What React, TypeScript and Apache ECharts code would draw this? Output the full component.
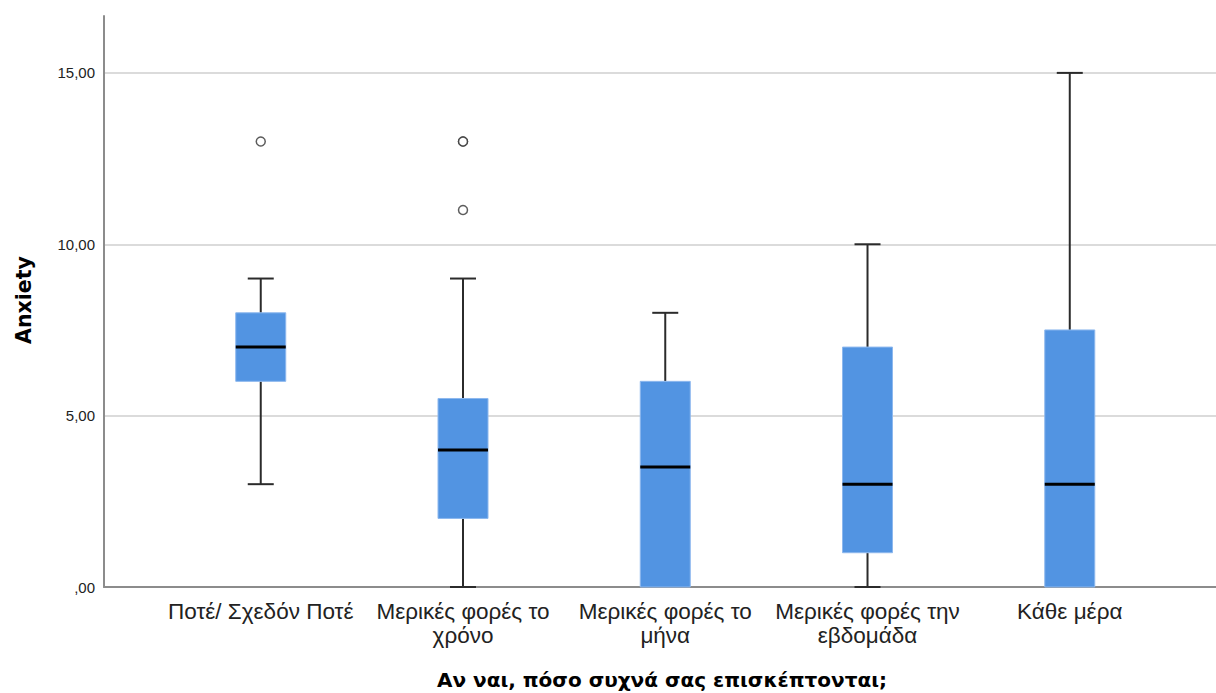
import React, { useEffect, useRef } from "react";
import * as echarts from "echarts";

const categories = [
  "Ποτέ/ Σχεδόν Ποτέ",
  "Μερικές φορές το\nχρόνο",
  "Μερικές φορές το\nμήνα",
  "Μερικές φορές την\nεβδομάδα",
  "Κάθε μέρα",
];
// [min, Q1, median, Q3, max]
const boxValues = [
  [3, 6, 7, 8, 9],
  [0, 2, 4, 5.5, 9],
  [0, 0, 3.5, 6, 8],
  [0, 1, 3, 7, 10],
  [0, 0, 3, 7.5, 15],
];
// [category index, value]
const outliers = [
  [0, 13],
  [1, 13],
  [1, 13],
  [1, 11],
];
const yTicks = [0, 5, 10, 15];
const yAxisTitle = "Anxiety";
const xAxisTitle = "Αν ναι, πόσο συχνά σας επισκέπτονται;";

const fmt = (v: number) => (v === 0 ? ",00" : v.toFixed(2).replace(".", ","));

export default function App() {
  const ref = useRef<HTMLDivElement>(null);
  useEffect(() => {
    if (!ref.current) return;
    const chart = echarts.init(ref.current, null, { renderer: "svg" });
    const labelValues = categories.map((_, i) => i);
    const boxData = boxValues.map((b, i) => [i, ...b]);
    const option: any = {
      animation: false,
      grid: { left: 104, right: 0, top: 16, bottom: 106, containLabel: false },
      xAxis: {
        type: "value",
        min: -0.775,
        max: 4.723,
        splitLine: { show: false },
        axisLine: { show: true, onZero: false, lineStyle: { color: "#8c8c8c", width: 2 } },
        axisTick: { show: false },
        axisLabel: {
          customValues: labelValues,
          margin: 12,
          fontFamily: "Liberation Sans",
          fontSize: 22.5,
          color: "#222",
          lineHeight: 24,
          align: "center",
          formatter: (v: number) => categories[Math.round(v)] ?? "",
        },
      },
      yAxis: {
        type: "value",
        min: 0,
        max: 16.66,
        interval: 5,
        axisLine: { show: true, onZero: false, lineStyle: { color: "#8c8c8c", width: 2 } },
        axisTick: { show: false },
        splitLine: {
          show: true,
          showMaxLine: false,
          showMinLine: false,
          lineStyle: { color: "#cfcfcf", width: 1.5 },
        },
        axisLabel: {
          margin: 9,
          fontFamily: "Liberation Sans",
          fontSize: 15,
          color: "#222",
          showMaxLabel: false,
          formatter: (v: number) => (yTicks.includes(v) ? fmt(v) : ""),
        },
      },
      graphic: [
        {
          type: "text",
          x: 24,
          y: 300,
          rotation: Math.PI / 2,
          style: {
            text: yAxisTitle,
            fontFamily: "DejaVu Sans",
            fontWeight: "bold",
            fontSize: 20.5,
            fill: "#000",
            textAlign: "center",
            textVerticalAlign: "middle",
          },
        },
        {
          type: "text",
          x: 662,
          y: 680,
          style: {
            text: xAxisTitle,
            fontFamily: "DejaVu Sans",
            fontWeight: "bold",
            fontSize: 20,
            fill: "#000",
            textAlign: "center",
            textVerticalAlign: "middle",
          },
        },
      ],
      series: [
        {
          type: "custom",
          data: boxData,
          encode: { x: 0, y: [1, 2, 3, 4, 5] },
          renderItem: (params: any, api: any) => {
            const x = api.value(0);
            const mn = api.value(1);
            const q1 = api.value(2);
            const md = api.value(3);
            const q3 = api.value(4);
            const mx = api.value(5);
            const pMin = api.coord([x, mn]);
            const pQ1 = api.coord([x, q1]);
            const pMd = api.coord([x, md]);
            const pQ3 = api.coord([x, q3]);
            const pMax = api.coord([x, mx]);
            const cx = pMd[0];
            const bw = 50;
            const cw = 26;
            const whisker = { stroke: "#2b2b2b", lineWidth: 2 };
            const children: any[] = [];
            if (mx > q3) {
              children.push({ type: "line", shape: { x1: cx, y1: pQ3[1], x2: cx, y2: pMax[1] }, style: whisker });
              children.push({ type: "line", shape: { x1: cx - cw / 2, y1: pMax[1], x2: cx + cw / 2, y2: pMax[1] }, style: whisker });
            }
            if (mn < q1) {
              children.push({ type: "line", shape: { x1: cx, y1: pQ1[1], x2: cx, y2: pMin[1] }, style: whisker });
              children.push({ type: "line", shape: { x1: cx - cw / 2, y1: pMin[1], x2: cx + cw / 2, y2: pMin[1] }, style: whisker });
            }
            children.push({
              type: "rect",
              shape: { x: cx - bw / 2, y: pQ3[1], width: bw, height: pQ1[1] - pQ3[1] },
              style: { fill: "#5294e2", stroke: "#8db8ee", lineWidth: 1 },
            });
            children.push({
              type: "line",
              shape: { x1: cx - bw / 2, y1: pMd[1], x2: cx + bw / 2, y2: pMd[1] },
              style: { stroke: "#000", lineWidth: 3 },
            });
            return { type: "group", children };
          },
          z: 3,
        },
        {
          type: "scatter",
          data: outliers,
          symbol: "circle",
          symbolSize: 9,
          itemStyle: { color: "#fff", borderColor: "#333", borderWidth: 1.5 },
          z: 4,
        },
      ],
    };
    chart.setOption(option);
    return () => chart.dispose();
  }, []);
  return <div ref={ref} style={{ width: 1216, height: 693, position: "absolute", left: 0, top: 0 }} />;
}
